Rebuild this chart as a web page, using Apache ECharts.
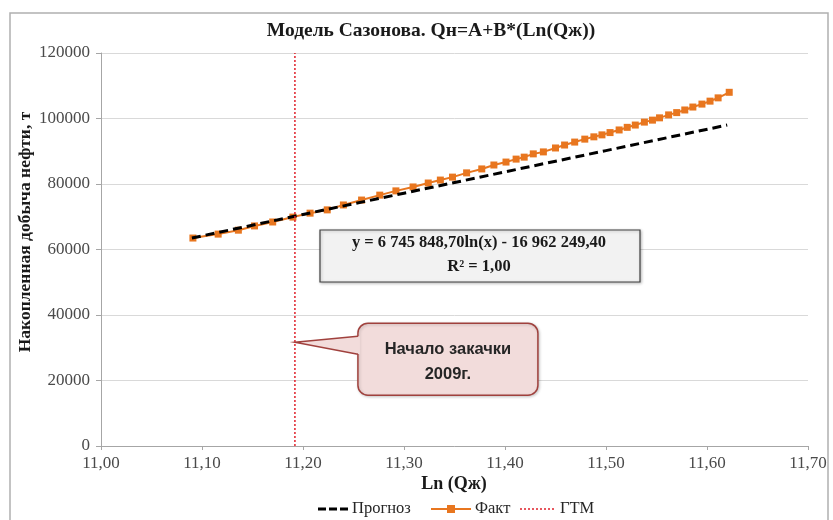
<!DOCTYPE html>
<html>
<head>
<meta charset="utf-8">
<script src="https://cdn.jsdelivr.net/npm/echarts@6/dist/echarts.min.js"></script>
<style>
  html, body { margin: 0; padding: 0; background: #fff; }
  #chart { width: 833px; height: 520px; }
</style>
</head>
<body>
<div id="chart"></div>
<script>
// Ln(Qж) for each measured point
const lnQl = [
  11.091, 11.116, 11.136, 11.152, 11.170, 11.190, 11.207, 11.224, 11.240, 11.258,
  11.276, 11.292, 11.309, 11.324, 11.336, 11.348, 11.362, 11.377, 11.389, 11.401,
  11.411, 11.419, 11.428, 11.438, 11.450, 11.459, 11.469, 11.479, 11.488, 11.496,
  11.504, 11.513, 11.521, 11.529, 11.538, 11.546, 11.553, 11.562, 11.570, 11.578,
  11.586, 11.595, 11.603, 11.611, 11.622
];
// Накопленная добыча нефти, т (факт)
const factOil = [
  63500, 64700, 65900, 67200, 68400, 69900, 71100, 72100, 73600, 75100,
  76600, 77900, 79100, 80300, 81200, 82100, 83400, 84600, 85800, 86700,
  87600, 88200, 89200, 89800, 91000, 91900, 92800, 93700, 94400, 95000,
  95700, 96500, 97300, 98000, 98900, 99500, 100200, 101100, 101800, 102600,
  103500, 104400, 105300, 106300, 108000
];
// Прогноз по модели
const forecastX = [11.09, 11.20, 11.30, 11.40, 11.50, 11.62];
const forecastY = [63500, 70700, 77200, 83700, 90200, 98000];
// Начало ГТМ
const gtmX = 11.192;
const yTicks = [0, 120000, 20000];   // min, max, step
const xTicks = [11.0, 11.7, 0.1];
const legendNames = ['Прогноз', 'Факт', 'ГТМ'];

const titleText = 'Модель Сазонова. Qн=A+B*(Ln(Qж))';
const xName = 'Ln (Qж)';
const yName = 'Накопленная добыча нефти, т';
const eqLine1 = 'y = 6 745 848,70ln(x) - 16 962 249,40';
const eqLine2 = 'R² = 1,00';
const calloutText = 'Начало закачки\n2009г.';

const serif = '"Liberation Serif", "Times New Roman", serif';
const sans = '"Liberation Sans", Arial, sans-serif';
const ORANGE = '#E8761F';
const RED = '#E0202A';

const chart = echarts.init(document.getElementById('chart'));

const factData = lnQl.map((x, i) => [x, factOil[i]]);
const forecastData = forecastX.map((x, i) => [x, forecastY[i]]);

chart.setOption({
  animation: false,
  backgroundColor: '#fff',
  grid: { left: 101, right: 25, top: 53, bottom: 74 },
  xAxis: {
    type: 'value',
    min: xTicks[0], max: xTicks[1], interval: xTicks[2],
    axisLine: { show: true, lineStyle: { color: '#A6A6A6', width: 1 } },
    axisTick: { show: true, length: 4, lineStyle: { color: '#A6A6A6' } },
    splitLine: { show: false },
    axisLabel: {
      color: '#4a4a4a', fontFamily: serif, fontSize: 17, margin: 9,
      formatter: v => v.toFixed(2).replace('.', ',')
    }
  },
  yAxis: {
    type: 'value',
    min: yTicks[0], max: yTicks[1], interval: yTicks[2],
    axisLine: { show: true, lineStyle: { color: '#A6A6A6', width: 1 } },
    axisTick: { show: true, length: 5, lineStyle: { color: '#A6A6A6' } },
    splitLine: { show: true, lineStyle: { color: '#D9D9D9', width: 1 } },
    axisLabel: { color: '#4a4a4a', fontFamily: serif, fontSize: 17, margin: 11,
                 formatter: v => String(Math.round(v)) }
  },
  series: [
    {
      name: legendNames[1], type: 'line', data: factData, z: 2,
      symbol: 'rect', symbolSize: 7,
      itemStyle: { color: ORANGE },
      lineStyle: { color: ORANGE, width: 2 }
    },
    {
      name: legendNames[0], type: 'line', data: forecastData, z: 3,
      symbol: 'none',
      itemStyle: { color: '#000' },
      lineStyle: { color: '#000', width: 3, type: [9, 5] }
    },
    {
      name: legendNames[2], type: 'line', z: 4,
      data: [[gtmX, yTicks[0]], [gtmX, yTicks[1]]],
      symbol: 'none',
      itemStyle: { color: RED },
      lineStyle: { color: RED, width: 1.5, type: [2, 2] }
    }
  ]
});

// Callout anchored to the ГТМ line
const tip = chart.convertToPixel({ gridIndex: 0 }, [gtmX, 31700]);
const bx = tip[0] + 63, by = tip[1] - 19, bw = 180, bh = 72;

// Legend row
const ly = 509;
const lx = 318;
const legendFont = { fontFamily: serif, fontSize: 16.5, fill: '#262626', verticalAlign: 'middle' };

chart.setOption({
  graphic: [
    { type: 'rect', z: 0, silent: true,
      shape: { x: 10, y: 13, width: 818, height: 540 },
      style: { fill: 'none', stroke: '#B0B0B0', lineWidth: 1.5 } },
    { type: 'text', z: 10, x: 431, y: 31,
      style: { text: titleText, fontFamily: serif, fontSize: 19.5, fontWeight: 'bold', fill: '#1a1a1a',
               align: 'center', verticalAlign: 'middle' } },
    { type: 'text', z: 10, x: 25, y: 232, rotation: Math.PI / 2,
      style: { text: yName, fontFamily: serif, fontSize: 17.5, fontWeight: 'bold', fill: '#1a1a1a',
               align: 'center', verticalAlign: 'middle' } },
    { type: 'text', z: 10, x: 454, y: 484,
      style: { text: xName, fontFamily: serif, fontSize: 18, fontWeight: 'bold', fill: '#1a1a1a',
               align: 'center', verticalAlign: 'middle' } },

    // trendline equation box
    { type: 'rect', z: 10,
      shape: { x: 320, y: 230, width: 320, height: 52 },
      style: { fill: '#F2F2F2', stroke: '#404040', lineWidth: 1.2,
               shadowBlur: 3, shadowColor: 'rgba(0,0,0,0.25)', shadowOffsetX: 1, shadowOffsetY: 1 } },
    { type: 'text', z: 11, x: 479, y: 255,
      style: { text: eqLine1 + '\n' + eqLine2, fontFamily: serif, fontSize: 16.5, fontWeight: 'bold',
               fill: '#1a1a1a', align: 'center', verticalAlign: 'middle', lineHeight: 24 } },

    // callout
    { type: 'rect', z: 10,
      shape: { x: bx, y: by, width: bw, height: bh, r: 10 },
      style: { fill: '#F2DCDB', stroke: '#A0413D', lineWidth: 1.5,
               shadowBlur: 3, shadowColor: 'rgba(0,0,0,0.2)', shadowOffsetX: 1, shadowOffsetY: 1 } },
    { type: 'polygon', z: 11,
      shape: { points: [[bx + 2, by + 13], [tip[0], tip[1]], [bx + 2, by + 31]] },
      style: { fill: '#F2DCDB', stroke: 'none' } },
    { type: 'polyline', z: 12,
      shape: { points: [[bx, by + 13], [tip[0], tip[1]], [bx, by + 31]] },
      style: { fill: 'none', stroke: '#A0413D', lineWidth: 1.5 } },
    { type: 'text', z: 13, x: bx + bw / 2, y: by + bh / 2 + 3,
      style: { text: calloutText, fontFamily: sans, fontSize: 16.5, fontWeight: 'bold',
               fill: '#262626', align: 'center', verticalAlign: 'middle', lineHeight: 25 } },

    // legend: Прогноз
    { type: 'line', z: 10, shape: { x1: lx, y1: ly, x2: lx + 31, y2: ly },
      style: { stroke: '#000', lineWidth: 3, lineDash: [8, 3] } },
    { type: 'text', z: 10, x: lx + 34, y: ly, style: Object.assign({ text: legendNames[0] }, legendFont) },
    // legend: Факт
    { type: 'line', z: 10, shape: { x1: lx + 113, y1: ly, x2: lx + 153, y2: ly },
      style: { stroke: ORANGE, lineWidth: 2 } },
    { type: 'rect', z: 11, shape: { x: lx + 129, y: ly - 4, width: 8, height: 8 },
      style: { fill: ORANGE } },
    { type: 'text', z: 10, x: lx + 157, y: ly, style: Object.assign({ text: legendNames[1] }, legendFont) },
    // legend: ГТМ
    { type: 'line', z: 10, shape: { x1: lx + 202, y1: ly, x2: lx + 238, y2: ly },
      style: { stroke: RED, lineWidth: 1.5, lineDash: [2, 2] } },
    { type: 'text', z: 10, x: lx + 242, y: ly, style: Object.assign({ text: legendNames[2] }, legendFont) }
  ]
});
</script>
</body>
</html>
